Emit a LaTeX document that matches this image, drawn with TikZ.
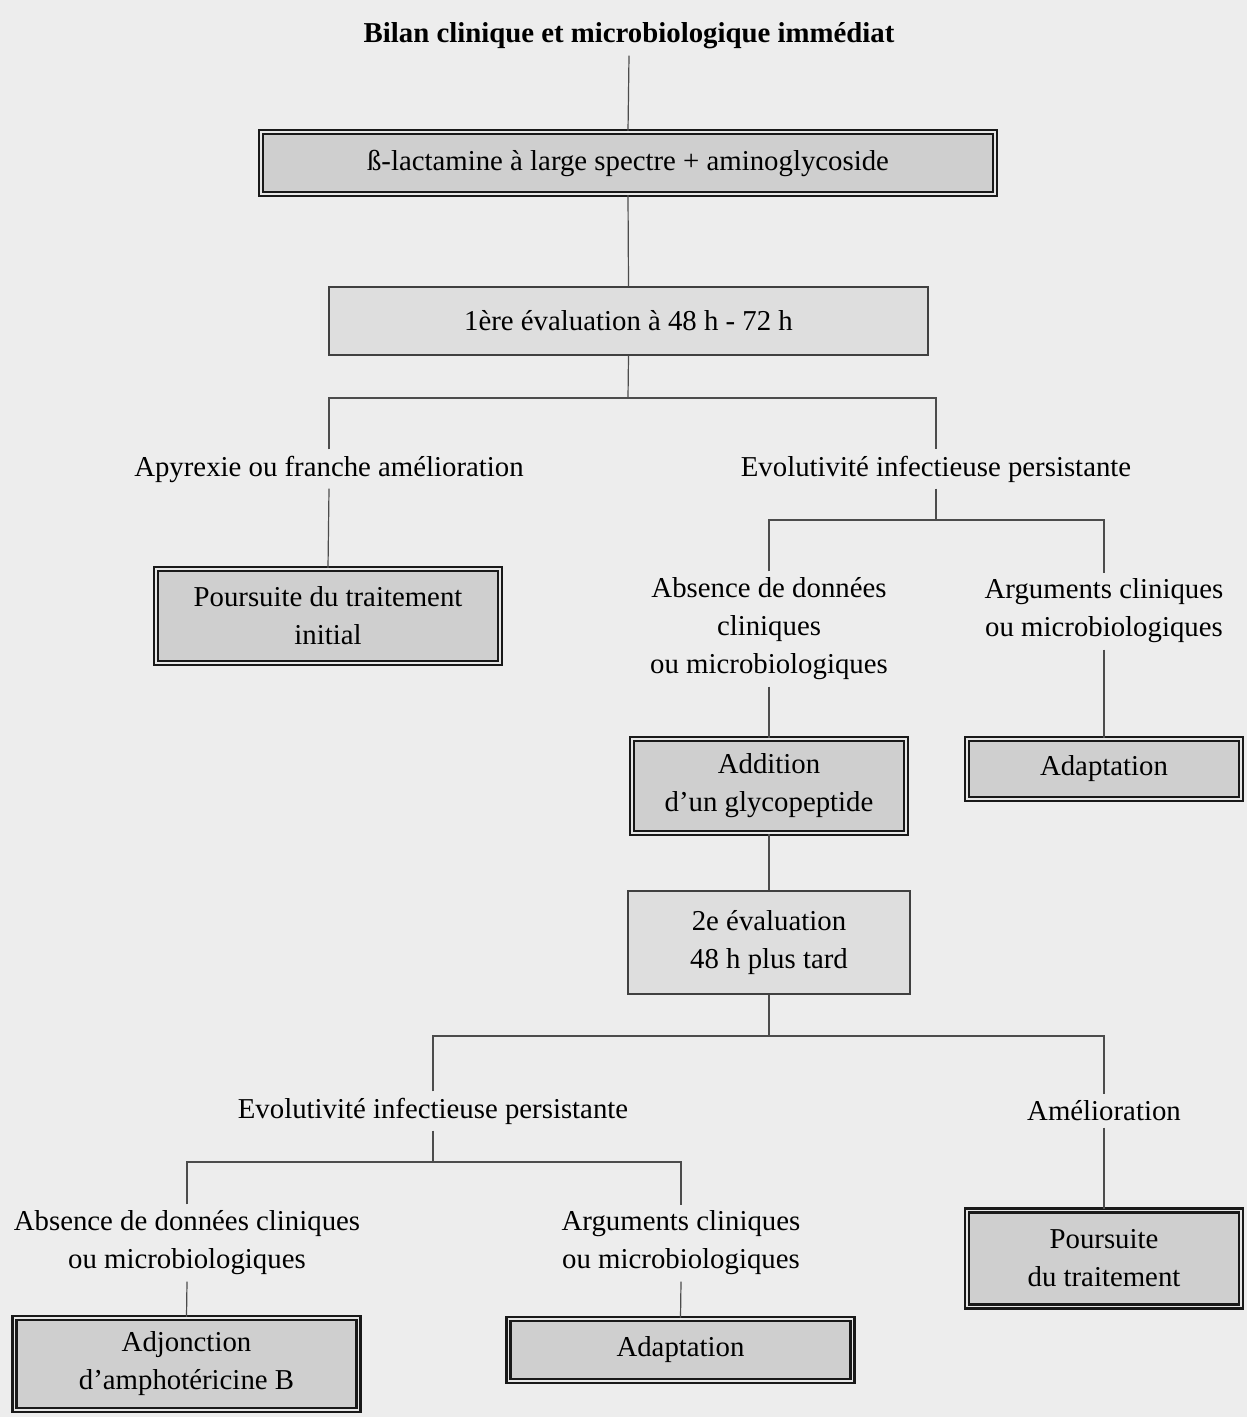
\documentclass[tikz,border=0pt]{standalone}
\usepackage{fontspec}
\setmainfont{Liberation Serif}
\definecolor{bg}{HTML}{EDEDED}
\definecolor{boxg}{HTML}{CFCFCF}
\definecolor{evalg}{HTML}{DEDEDE}
\begin{document}
\begin{tikzpicture}[x=0.5pt,y=-0.5pt,
  every node/.style={font=\fontsize{14.4}{19}\selectfont, align=center, inner sep=3pt},
  dbox/.style={draw=black!90, line width=1.1pt, double=bg!80!boxg, double distance=0.9pt, fill=boxg, inner sep=0pt},
  ebox/.style={draw=black!75, line width=0.6pt, fill=evalg, inner sep=0pt},
  conn/.style={draw=black!70, line width=0.6pt}]
\fill[bg] (0,0) rectangle (1247,1417);
\useasboundingbox (0,0) rectangle (1247,1417);

\node[font=\fontsize{14.4}{19}\selectfont\bfseries] (title) at (629,36) {Bilan clinique et microbiologique immédiat};
\node[dbox, minimum width=367pt, minimum height=31pt] (b1) at (628,163) {ß-lactamine à large spectre + aminoglycoside};
\node[ebox, minimum width=299.5pt, minimum height=34pt] (e1) at (628.5,321) {1ère évaluation à 48 h - 72 h};
\coordinate (s1) at (628,398);
\node (l1) at (329,469) {Apyrexie ou franche amélioration};
\node (r1) at (936,469) {Evolutivité infectieuse persistante};
\coordinate (s2) at (936,520);
\node (l2) at (769,629) {Absence de données\\cliniques\\ou microbiologiques};
\node (r2) at (1104,611) {Arguments cliniques\\ou microbiologiques};
\node[dbox, minimum width=172pt, minimum height=47pt] (b2) at (328,616) {Poursuite du traitement\\initial};
\node[dbox, minimum width=137pt, minimum height=47pt] (b3) at (769,786) {Addition\\d’un glycopeptide};
\node[dbox, minimum width=137pt, minimum height=30pt] (b4) at (1104,769) {Adaptation};
\node[ebox, minimum width=141pt, minimum height=51.5pt] (e2) at (769,942.5) {2e évaluation\\48 h plus tard};
\coordinate (s3) at (769,1036);
\node (l3) at (433,1111) {Evolutivité infectieuse persistante};
\node (r3) at (1104,1111) {Amélioration};
\coordinate (s4) at (433,1162);
\node (l4) at (187,1243) {Absence de données cliniques\\ou microbiologiques};
\node (r4) at (681,1243) {Arguments cliniques\\ou microbiologiques};
\node[dbox, minimum width=172pt, minimum height=46pt] (b5) at (186.5,1364) {Adjonction\\d’amphotéricine B};
\node[dbox, minimum width=172pt, minimum height=31pt] (b6) at (680.5,1350) {Adaptation};
\node[dbox, minimum width=137pt, minimum height=48pt] (b7) at (1104,1258.5) {Poursuite\\du traitement};

\draw[conn] (title.south) -- (b1.north);
\draw[conn] (b1.south) -- (e1.north);
\draw[conn] (e1.south) -- (s1);
\draw[conn] (l1.north) |- (s1) -| (r1.north);
\draw[conn] (l1.south) -- (b2.north);
\draw[conn] (r1.south) -- (s2);
\draw[conn] (l2.north) |- (s2) -| (r2.north);
\draw[conn] (l2.south) -- (b3.north);
\draw[conn] (r2.south) -- (b4.north);
\draw[conn] (b3.south) -- (e2.north);
\draw[conn] (e2.south) -- (s3);
\draw[conn] (l3.north) |- (s3) -| (r3.north);
\draw[conn] (l3.south) -- (s4);
\draw[conn] (l4.north) |- (s4) -| (r4.north);
\draw[conn] (l4.south) -- (b5.north);
\draw[conn] (r4.south) -- (b6.north);
\draw[conn] (r3.south) -- (b7.north);
\end{tikzpicture}
\end{document}
